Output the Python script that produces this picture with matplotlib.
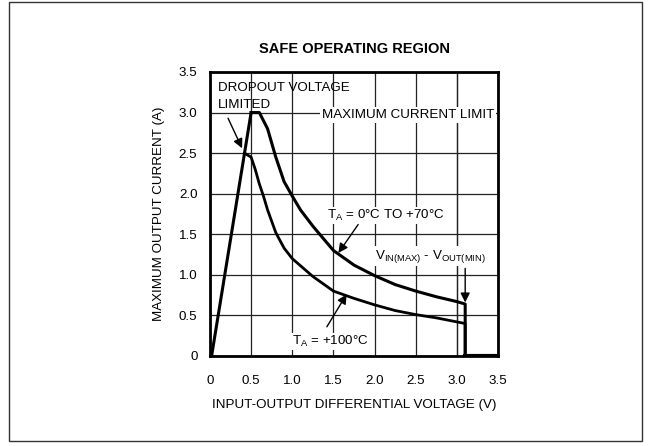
import matplotlib
matplotlib.use("Agg")
import matplotlib.pyplot as plt
from matplotlib.patches import Rectangle

plt.rcParams['font.family'] = ['Liberation Sans', 'DejaVu Sans']

# rising (dropout limited) edge
rise_v = [0.02, 0.5]
rise_i = [0.0, 3.0]

# T_A = 0C to +70C
v_70 = [0.5, 0.6, 0.7, 0.8, 0.9, 1.0, 1.1, 1.25, 1.5, 1.75, 2.0, 2.25, 2.5, 2.75, 3.0, 3.1, 3.1]
i_70 = [3.0, 3.0, 2.8, 2.45, 2.15, 1.97, 1.8, 1.6, 1.3, 1.12, 0.99, 0.88, 0.8, 0.73, 0.67, 0.64, 0.0]

# T_A = +100C
v_100 = [0.42, 0.5, 0.55, 0.6, 0.65, 0.7, 0.8, 0.9, 1.0, 1.25, 1.5, 1.75, 2.0, 2.25, 2.5, 2.75, 3.0, 3.1, 3.1]
i_100 = [2.5, 2.45, 2.3, 2.12, 1.97, 1.8, 1.52, 1.33, 1.2, 0.98, 0.8, 0.71, 0.63, 0.56, 0.51, 0.47, 0.42, 0.4, 0.0]

xticks = [0, 0.5, 1.0, 1.5, 2.0, 2.5, 3.0, 3.5]
xlabels = ['0', '0.5', '1.0', '1.5', '2.0', '2.5', '3.0', '3.5']
yticks = [0, 0.5, 1.0, 1.5, 2.0, 2.5, 3.0, 3.5]
ylabels = ['0', '0.5', '1.0', '1.5', '2.0', '2.5', '3.0', '3.5']

fs = 9.6

fig = plt.figure(figsize=(6.52, 4.46), dpi=100)
# outer frame
fig.patches.append(Rectangle((0.014, 0.011), 0.971, 0.984, transform=fig.transFigure,
                             fill=False, edgecolor='#333333', linewidth=1.0))

ax = fig.add_axes([0.322, 0.2018, 0.442, 0.6368])
ax.set_xlim(0, 3.5)
ax.set_ylim(0, 3.5)
ax.set_xticks(xticks)
ax.set_xticklabels(xlabels)
ax.set_yticks(yticks)
ax.set_yticklabels(ylabels)
ax.tick_params(length=0, labelsize=fs)
ax.tick_params(axis='x', pad=14)
ax.tick_params(axis='y', pad=9)
ax.grid(True, color='#222222', linewidth=0.9)
ax.axvline(3.0, color='#222222', linewidth=0.9)
for s in ax.spines.values():
    s.set_linewidth(2.0)

ax.plot(rise_v, rise_i, color='black', lw=2.2, solid_joinstyle='miter')
ax.plot(v_70, i_70, color='black', lw=2.2)
ax.plot(v_100, i_100, color='black', lw=2.0)
ax.plot([3.1, 3.5], [0.0, 0.0], color='black', lw=3.0)

ax.set_title('SAFE OPERATING REGION', fontsize=10.5, fontweight='bold', pad=14)
ax.set_xlabel('INPUT-OUTPUT DIFFERENTIAL VOLTAGE (V)', fontsize=fs, labelpad=8)
ax.set_ylabel('MAXIMUM OUTPUT CURRENT (A)', fontsize=fs, labelpad=10)

arrow = dict(arrowstyle='-|>', color='black', lw=1.0, mutation_scale=14, shrinkA=0, shrinkB=0)

ax.text(0.1, 3.38, 'DROPOUT VOLTAGE\nLIMITED', fontsize=fs, va='top', ha='left',
        linespacing=1.55)
ax.annotate('', xy=(0.39, 2.56), xytext=(0.22, 2.93), arrowprops=arrow)

ax.text(1.36, 2.97, 'MAXIMUM CURRENT LIMIT', fontsize=fs, va='center', ha='left',
        bbox=dict(facecolor='white', edgecolor='none', pad=1.5))

ax.text(1.42, 1.73, r'T$_\mathregular{A}$ = 0°C TO +70°C', fontsize=fs, va='center', ha='left',
        bbox=dict(facecolor='white', edgecolor='none', pad=1.0))
ax.annotate('', xy=(1.56, 1.27), xytext=(1.8, 1.62), arrowprops=arrow)

ax.text(2.0, 1.23, r'V$_\mathregular{IN(MAX)}$ - V$_\mathregular{OUT(MIN)}$', fontsize=fs,
        va='center', ha='left', bbox=dict(facecolor='white', edgecolor='none', pad=1.0))
ax.annotate('', xy=(3.1, 0.66), xytext=(3.1, 1.08), arrowprops=arrow)

ax.text(1.0, 0.18, r'T$_\mathregular{A}$ = +100°C', fontsize=fs, va='center', ha='left',
        bbox=dict(facecolor='white', edgecolor='none', pad=1.0))
ax.annotate('', xy=(1.66, 0.76), xytext=(1.42, 0.36), arrowprops=arrow)

fig.savefig('out.png', dpi=100)
